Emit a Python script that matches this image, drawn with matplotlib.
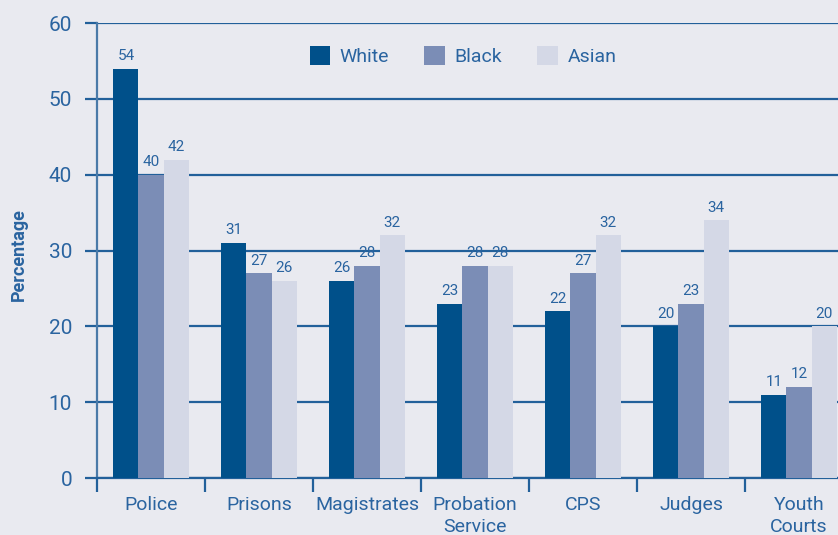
import matplotlib.pyplot as plt
from matplotlib.patches import Patch
import numpy as np

plt.rcParams['font.family'] = ['Roboto', 'DejaVu Sans']
plt.rcParams['font.stretch'] = 'condensed'

categories = ['Police', 'Prisons', 'Magistrates', 'Probation\nService', 'CPS', 'Judges', 'Youth\nCourts']
white = [54, 31, 26, 23, 22, 20, 11]
black = [40, 27, 28, 28, 27, 23, 12]
asian = [42, 26, 32, 28, 32, 34, 20]
series = [('White', white, '#00508a'), ('Black', black, '#7b8db6'), ('Asian', asian, '#d4d8e6')]

bg = '#e9eaf0'
txt = '#2a64a0'
grid = '#22609a'

fig = plt.figure(figsize=(8.38, 5.35), dpi=100, facecolor=bg)
ax = fig.add_axes([97 / 838, 57 / 535, 756 / 838, 455 / 535], facecolor=bg)

x = np.arange(len(categories))
w = 0.232
for i, (name, vals, col) in enumerate(series):
    pos = x + (i - 1) * w
    ax.bar(pos, vals, width=w, color=col, zorder=3)
    for px, v in zip(pos, vals):
        ax.annotate(str(v), (px, v), xytext=(0, 4), textcoords='offset points',
                    ha='center', va='bottom', fontsize=11, color=txt)

ax.set_xlim(-0.5, 6.5)
ax.set_ylim(0, 60)
ax.set_yticks(range(0, 61, 10))
ax.yaxis.grid(True, color=grid, linewidth=1.6, zorder=0)
ax.set_axisbelow(True)

ax.set_xticks(x)
ax.set_xticklabels(categories, fontsize=14, color=txt, linespacing=1.3)
ax.set_xticks(np.arange(-0.5, 7, 1), minor=True)
ax.tick_params(axis='x', which='major', length=0, pad=13)
ax.tick_params(axis='x', which='minor', length=10, width=1.6, color=grid)
ax.tick_params(axis='y', length=9, width=1.6, color=grid, labelsize=15, labelcolor=txt, pad=9)

for s in ['top', 'right']:
    ax.spines[s].set_visible(False)
ax.spines['left'].set_color('#4a7aa8')
ax.spines['left'].set_linewidth(1.6)
ax.spines['bottom'].set_color(grid)
ax.spines['bottom'].set_linewidth(1.6)

ax.set_ylabel('Percentage', fontsize=13, fontweight='bold', color=txt)
ax.yaxis.set_label_coords(-0.092, 0.49)

handles = [Patch(facecolor=c, label=n) for n, _, c in series]
ax.legend(handles=handles, loc='upper left', bbox_to_anchor=(205 / 756, 1 - 15 / 455),
          ncol=3, frameon=False, fontsize=14, labelcolor=txt, handlelength=1.05,
          handleheight=1.15, handletextpad=0.5, columnspacing=1.8, borderaxespad=0)

fig.savefig('out.png', dpi=100, facecolor=bg)
